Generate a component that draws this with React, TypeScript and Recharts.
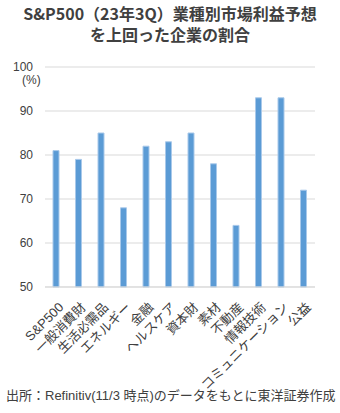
import { BarChart, Bar, XAxis, YAxis, CartesianGrid } from "recharts";

const SECTORS = [
  "S&P500", "一般消費財", "生活必需品", "エネルギー", "金融", "ヘルスケア",
  "資本財", "素材", "不動産", "情報技術", "コミュニケーション", "公益",
];
const BEAT_RATIO = [81, 79, 85, 68, 82, 83, 85, 78, 64, 93, 93, 72];
const Y_TICKS = [50, 60, 70, 80, 90, 100];

const data = SECTORS.map((name, i) => ({ name, value: BEAT_RATIO[i] }));

const FONT = "'Liberation Sans', 'Noto Sans CJK JP', sans-serif";
const TEXT = "#404040";

function SectorTick(props: any) {
  const { x, y, payload } = props;
  const ax = x + 8;
  const ay = y + 13;
  return (
    <text
      x={ax}
      y={ay}
      textAnchor="end"
      transform={`rotate(-45, ${ax}, ${ay})`}
      fontSize={13}
      fontFamily={FONT}
      fill={TEXT}
    >
      {payload.value}
    </text>
  );
}

const titleStyle = {
  position: "absolute" as const,
  left: 0,
  width: 340,
  height: 19,
  textAlign: "center" as const,
  fontSize: 16,
  fontWeight: "bold" as const,
  lineHeight: "19px",
  fontFamily: "'Noto Sans CJK JP', sans-serif",
  whiteSpace: "nowrap" as const,
  overflow: "visible" as const,
};

export default function App() {
  return (
    <div
      style={{
        position: "fixed",
        left: 0,
        top: 0,
        width: 340,
        height: 413,
        background: "#fff",
        fontFamily: FONT,
        color: TEXT,
      }}
    >
      <div style={{ ...titleStyle, top: 4 }}>S&amp;P500（23年3Q）業種別市場利益予想</div>
      <div style={{ ...titleStyle, top: 25 }}>を上回った企業の割合</div>
      <div style={{ position: "absolute", left: 22, top: 73, fontSize: 12 }}>(%)</div>
      <BarChart
        width={340}
        height={413}
        data={data}
        margin={{ top: 67, right: 25, left: 10, bottom: 0 }}
      >
        <CartesianGrid vertical={false} stroke="#d9d9d9" />
        <XAxis
          dataKey="name"
          interval={0}
          height={126}
          tickLine={false}
          axisLine={{ stroke: "#d9d9d9" }}
          tick={<SectorTick />}
        />
        <YAxis
          width={35}
          domain={[50, 100]}
          ticks={Y_TICKS}
          tickLine={false}
          axisLine={false}
          tickSize={0}
          tickMargin={12}
          tick={{ fontSize: 12, fill: TEXT, fontFamily: FONT }}
        />
        <Bar
          dataKey="value"
          fill="#5b9bd5"
          stroke="#a9c9ea"
          strokeWidth={1}
          barSize={6}
          isAnimationActive={false}
        />
      </BarChart>
      <div
        style={{
          position: "absolute",
          left: 6,
          top: 385,
          fontSize: 13,
          whiteSpace: "nowrap",
        }}
      >
        出所：Refinitiv(11/3 時点)のデータをもとに東洋証券作成
      </div>
    </div>
  );
}
